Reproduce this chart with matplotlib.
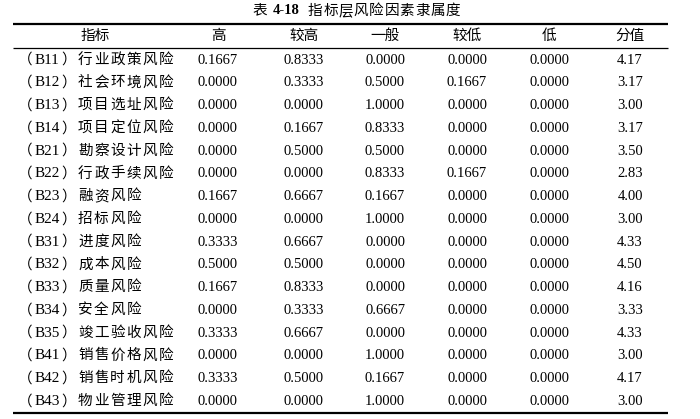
import matplotlib
matplotlib.use("Agg")
import matplotlib.pyplot as plt

# table contents
row_labels = ["（B11）行业政策风险", "（B12）社会环境风险", "（B13）项目选址风险",
              "（B14）项目定位风险", "（B21）勘察设计风险", "（B22）行政手续风险",
              "（B23）融资风险", "（B24）招标风险", "（B31）进度风险",
              "（B32）成本风险", "（B33）质量风险", "（B34）安全风险",
              "（B35）竣工验收风险", "（B41）销售价格风险", "（B42）销售时机风险",
              "（B43）物业管理风险"]
headers = ["指标", "高", "较高", "一般", "较低", "低", "分值"]
high = [0.1667, 0.0000, 0.0000, 0.0000, 0.0000, 0.0000, 0.1667, 0.0000,
        0.3333, 0.5000, 0.1667, 0.0000, 0.3333, 0.0000, 0.3333, 0.0000]
fairly_high = [0.8333, 0.3333, 0.0000, 0.1667, 0.5000, 0.0000, 0.6667, 0.0000,
               0.6667, 0.5000, 0.8333, 0.3333, 0.6667, 0.0000, 0.5000, 0.0000]
medium = [0.0000, 0.5000, 1.0000, 0.8333, 0.5000, 0.8333, 0.1667, 1.0000,
          0.0000, 0.0000, 0.0000, 0.6667, 0.0000, 1.0000, 0.1667, 1.0000]
fairly_low = [0.0000, 0.1667, 0.0000, 0.0000, 0.0000, 0.1667, 0.0000, 0.0000,
              0.0000, 0.0000, 0.0000, 0.0000, 0.0000, 0.0000, 0.0000, 0.0000]
low = [0.0000] * 16
score = [4.17, 3.17, 3.00, 3.17, 3.50, 2.83, 4.00, 3.00,
         4.33, 4.50, 4.16, 3.33, 4.33, 3.00, 4.17, 3.00]
title_num = "4-18"
title_text = "指标层风险因素隶属度"

FONT = ["Liberation Serif", "Noto Sans CJK SC"]
FS = 10.5

fig = plt.figure(figsize=(7.0, 4.19), dpi=100)
ax = fig.add_axes([0, 0, 1, 1])
ax.set_xlim(0, 700)
ax.set_ylim(419, 0)
ax.axis("off")


def spaced(x, y, s, pitch, **kw):
    # chinese text with a bit of letter spacing, like the word table
    for k, ch in enumerate(s):
        ax.text(x + k * pitch, y, ch, fontsize=FS, family=FONT,
                ha="left", va="center", **kw)


# column positions and row layout
col_x = [95, 218, 304, 385, 467, 549, 630]
name_x = 78
pitch = 16.1
header_y = 36
row_y0 = 60
row_dy = 22.75

# title with bold number
ax.text(252, 11, "表", fontsize=FS, family=FONT, va="center", ha="left")
ax.text(273, 11, title_num, fontsize=FS, family=FONT, fontweight="bold",
        va="center", ha="left")
spaced(308, 11, title_text, 15.3)

# rules
ax.plot([13, 668], [24, 24], color="black", lw=1.6, solid_capstyle="butt")
ax.plot([13, 668], [48, 48], color="black", lw=0.9, solid_capstyle="butt")
ax.plot([13, 668], [413, 413], color="black", lw=1.6, solid_capstyle="butt")

for cx, h in zip(col_x, headers):
    ax.text(cx, header_y, h, fontsize=FS, family=FONT, ha="center", va="center")

columns = [high, fairly_high, medium, fairly_low, low]
for i, lab in enumerate(row_labels):
    y = row_y0 + i * row_dy
    code, name = lab.split("）")
    ax.text(18, y, "（", fontsize=FS, family=FONT, ha="left", va="center")
    ax.text(35, y, code[1:], fontsize=11, family=FONT,
            ha="left", va="center")
    ax.text(61, y, "）", fontsize=FS, family=FONT, ha="left", va="center")
    spaced(name_x, y, name, pitch)
    for cx, col in zip(col_x[1:6], columns):
        ax.text(cx, y, f"{col[i]:.4f}", fontsize=FS, family=FONT,
                ha="center", va="center")
    ax.text(col_x[6], y, f"{score[i]:.2f}", fontsize=FS, family=FONT,
            ha="center", va="center")

fig.savefig("out.png", dpi=100)
